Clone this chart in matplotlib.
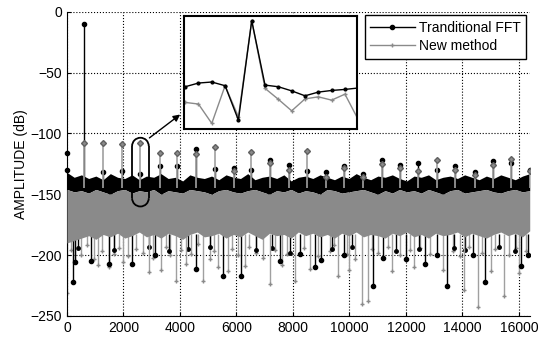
import numpy as np
import matplotlib
matplotlib.use("Agg")
import matplotlib.pyplot as plt
from matplotlib.patches import Arc

plt.rcParams['font.family'] = ['Liberation Sans', 'DejaVu Sans']

BLACK = 'black'
GRAY = '#8a8a8a'

# --- noise band envelope (sampled every 256 bins) ---
env_x = np.linspace(0, 16384, 65)
black_top = [-132, -136, -134, -137, -135, -138, -133, -136, -137, -134,
             -138, -135, -136, -133, -137, -136, -139, -134, -136, -137,
             -135, -138, -134, -136, -137, -133, -138, -136, -135, -137,
             -134, -139, -136, -135, -137, -134, -136, -138, -135, -137,
             -133, -136, -138, -135, -136, -134, -137, -139, -135, -136,
             -134, -138, -136, -135, -137, -134, -136, -138, -135, -137,
             -134, -136, -138, -135, -133]
gray_top = [-146, -148, -147, -149, -146, -148, -150, -147, -146, -149,
            -147, -148, -146, -150, -147, -148, -149, -146, -147, -148,
            -150, -147, -146, -148, -149, -147, -146, -148, -150, -147,
            -148, -146, -149, -147, -148, -150, -146, -147, -149, -148,
            -147, -146, -148, -150, -147, -149, -146, -148, -147, -149,
            -146, -148, -150, -147, -146, -149, -148, -147, -146, -148,
            -149, -147, -146, -148, -147]
gray_bot = [-190, -188, -186, -184, -187, -183, -185, -182, -186, -184,
            -181, -185, -183, -186, -182, -184, -187, -183, -181, -185,
            -184, -182, -186, -183, -185, -181, -184, -187, -182, -184,
            -183, -186, -181, -184, -182, -185, -183, -186, -182, -184,
            -181, -185, -183, -184, -186, -182, -184, -181, -185, -183,
            -186, -182, -184, -183, -181, -185, -182, -184, -186, -183,
            -181, -184, -182, -185, -180]

# --- harmonic peaks ---
harm_x = [616, 1271, 1948, 2601, 3279, 3909, 4586, 5239, 5905, 6522, 7199, 7851, 8506,
          9159, 9825, 10478, 11155, 11807, 12438, 13090, 13745, 14444, 15075, 15727, 16383]
gray_peak = [-108, -108, -109, -108, -116, -116, -117, -111, -131, -115, -124, -130, -114,
             -136, -128, -136, -125, -128, -131, -122, -130, -134, -126, -121, -131]
black_peak = [-10, -132, -131, -133, -127, -127, -113, -129, -128, -130, -122, -126, -131,
              -132, -127, -133, -122, -126, -124, -130, -127, -132, -123, -124, -130]
edge_black_x = [0, 0]
edge_black_y = [-116, -130]

# --- deep downward spikes ---
gray_dn_x = [10, 300, 1100, 1500, 2000, 2898, 3314, 3849, 4200, 4799, 5334, 5690, 6300, 7175,
             7600, 8090, 8600, 9587, 10000, 10442, 10656, 11511, 12300, 13300, 14066, 14540,
             15000, 15467, 16000]
gray_dn_y = [-231, -205, -208, -210, -206, -214, -212, -221, -207, -221, -210, -213, -209, -224,
             -208, -221, -211, -217, -212, -240, -238, -213, -210, -212, -229, -243,
             -213, -234, -215]
black_dn_x = [226, 285, 845, 1473, 2304, 3100, 4562, 5512, 6165, 7531, 8244, 8778, 8991, 9800,
              10834, 11178, 12010, 12663, 13115, 13471, 14362, 14801, 16084, 16322]
black_dn_y = [-222, -206, -205, -207, -207, -200, -211, -217, -217, -205, -199, -210, -204, -200,
              -225, -202, -203, -207, -200, -225, -200, -222, -209, -200]

# --- short downward spikes ---
gray_sh_x = [150, 500, 700, 950, 1250, 1650, 1850, 2150, 2450, 2700, 3050, 3500, 3650, 4050,
             4400, 4650, 5050, 5200, 5850, 6050, 6450, 6700, 6950, 7350, 7800, 8400, 8900, 9300,
             9450, 9900, 10200, 10800, 11000, 11350, 11800, 12150, 12500, 12850, 13650, 13900,
             14250, 14700, 15150, 15650, 15900, 16250]
gray_sh_y = [-196, -200, -192, -203, -197, -199, -194, -201, -195, -198, -202, -193, -200, -196,
             -199, -191, -203, -197, -195, -200, -193, -198, -202, -196, -199, -194, -201, -197,
             -192, -199, -203, -195, -198, -193, -200, -196, -194, -199, -197, -201, -193, -198,
             -195, -200, -194, -197]
black_sh_x = [400, 1650, 2900, 3600, 4300, 5050, 6700, 7250, 7900, 9400, 10100, 11650, 12450,
              13700, 14100, 15300, 15850]
black_sh_y = [-194, -196, -193, -197, -195, -193, -196, -194, -198, -195, -193, -197, -195,
              -194, -196, -193, -197]

# --- inset (zoom around bin 2601) ---
inset_x = np.arange(2591, 2605)
inset_black = [-139.4, -137.6, -137.1, -138.9, -155.6, -107.3, -138.6, -139.4, -141.4, -143.8,
               -142.0, -141.2, -140.7, -140.0]
inset_gray = [-147.0, -147.8, -157.2, -138.9, -154.0, -107.3, -140.2, -145.5, -151.1, -145.3,
              -144.3, -145.9, -143.0, -155.4]

fig = plt.figure(figsize=(5.4, 3.39), dpi=100)
ax = fig.add_axes([0.124, 0.068, 0.857, 0.897])

# noise band
ax.fill_between(env_x, gray_top, black_top, color=BLACK, lw=0, zorder=2)
ax.fill_between(env_x, gray_bot, gray_top, color=GRAY, lw=0, zorder=3)

# short spikes
ax.vlines(gray_sh_x, -183, gray_sh_y, color='#a0a0a0', lw=1, zorder=2)
ax.plot(gray_sh_x, gray_sh_y, '+', color=GRAY, ms=3, zorder=2)
ax.vlines(black_sh_x, -183, black_sh_y, color=BLACK, lw=1, zorder=2)
ax.plot(black_sh_x, black_sh_y, '.', color=BLACK, ms=5, zorder=2)

# deep spikes
ax.vlines(gray_dn_x, -183, gray_dn_y, color='#a0a0a0', lw=1, zorder=2)
ax.plot(gray_dn_x, gray_dn_y, '+', color=GRAY, ms=3, zorder=2)
ax.vlines(black_dn_x, -183, black_dn_y, color=BLACK, lw=1, zorder=2.5)
ax.plot(black_dn_x, black_dn_y, '.', color=BLACK, ms=6, zorder=2.5)

# harmonic peaks
ax.vlines(harm_x, -140, black_peak, color=BLACK, lw=1, zorder=2)
ax.plot(harm_x, black_peak, '.', color=BLACK, ms=6, zorder=2)
ax.plot(edge_black_x, edge_black_y, '.', color=BLACK, ms=6, zorder=2, clip_on=False)
ax.vlines(harm_x, -145, gray_peak, color='#a0a0a0', lw=1.2, zorder=3)
ax.plot(harm_x, gray_peak, 'D', color=GRAY, mec='#606060', ms=3, zorder=3)

# legend proxies
ax.plot([], [], '-', color=BLACK, marker='.', ms=6, lw=1, label='Tranditional FFT')
ax.plot([], [], '-', color=GRAY, marker='+', ms=3, lw=1, label='New method')

ax.set_xlim(0, 16384)
ax.set_ylim(-250, 0)
ax.set_xticks(np.arange(0, 16001, 2000))
ax.set_yticks(np.arange(-250, 1, 50))
ax.tick_params(direction='in', length=3, labelsize=10, width=0.8)
ax.grid(True, linestyle=':', color='black', lw=0.8)
ax.set_axisbelow(True)
for s in ['top', 'right']:
    ax.spines[s].set_visible(False)
ax.set_ylabel('AMPLITUDE (dB)', fontsize=10, labelpad=2)

leg = ax.legend(loc='upper right', fontsize=10, handlelength=3.2, borderaxespad=0.25,
                fancybox=False, edgecolor='black', framealpha=1, borderpad=0.4,
                labelspacing=0.3, handletextpad=0.3)
leg.get_frame().set_linewidth(1.0)

# stadium-shaped highlight around the zoomed harmonic
i = 3
half_w = 295        # bins
r_db = 6.85         # same radius in dB (visual circle)
top_c, bot_c = -110.35, -153.15
for cy, t1, t2 in [(top_c, 0, 180), (bot_c, 180, 360)]:
    ax.add_patch(Arc((harm_x[i], cy), 2 * half_w, 2 * r_db, theta1=t1, theta2=t2,
                     color='black', lw=1.3, zorder=5))
ax.vlines([harm_x[i] - half_w, harm_x[i] + half_w], bot_c, top_c, color='black', lw=1.3, zorder=5)
ax.annotate('', xy=(4087, -83), xytext=(harm_x[i] + 240, -105),
            arrowprops=dict(arrowstyle='-|>', color='black', lw=1, mutation_scale=10),
            annotation_clip=False, zorder=6)

# inset
axin = fig.add_axes([0.341, 0.619, 0.320, 0.334])
axin.plot(inset_x, inset_gray, '-', color=GRAY, marker='+', ms=2.5, lw=1)
axin.plot(inset_x, inset_black, '-', color=BLACK, marker='.', ms=4, lw=1)
axin.set_xlim(inset_x[0] - 0.075, inset_x[0] + 12.9)
axin.set_ylim(-160, -105)
axin.set_xticks([])
axin.set_yticks([])
for s in axin.spines.values():
    s.set_linewidth(1.5)

fig.savefig('out.png', dpi=100)
